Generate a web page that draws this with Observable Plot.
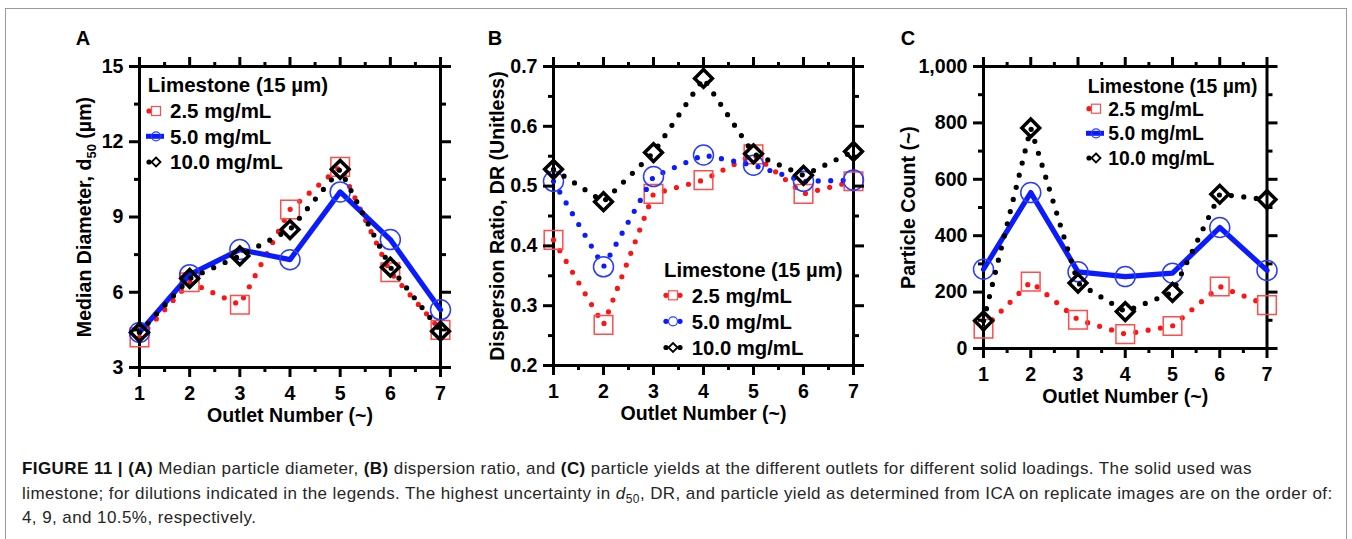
<!DOCTYPE html>
<html><head><meta charset="utf-8">
<script src="https://cdn.jsdelivr.net/npm/d3@7"></script>
<script src="https://cdn.jsdelivr.net/npm/@observablehq/plot@0.6"></script>
<style>
body{margin:0;background:#fff;}
#fig{position:relative;width:1352px;height:539px;overflow:hidden;font-family:"Liberation Sans",Arial,sans-serif;background:#fff;}
#frame{position:absolute;left:5px;top:8px;width:1342px;height:600px;border:1px solid #999;box-sizing:border-box;}
.panel{position:absolute;top:0;}
#overlay{position:absolute;left:0;top:0;}
.cap{position:absolute;left:22px;font-size:17px;letter-spacing:0.42px;color:#262626;white-space:nowrap;line-height:1;}
.cap b{color:#111;}
.cap sub{font-size:12px;line-height:0;}
</style></head>
<body><div id="fig"><div id="frame"></div></div>
<script>
// ---------- data ----------
const outlets = [1, 2, 3, 4, 5, 6, 7];
const seriesLabels = ["2.5 mg/mL", "5.0 mg/mL", "10.0 mg/mL"];
const legendTitle = "Limestone (15 µm)";
const panelLetters = ["A", "B", "C"];
const xTitle = "Outlet Number (~)";
const yTitles = ["Median Diameter, d50 (µm)", "Dispersion Ratio, DR (Unitless)", "Particle Count (~)"];

// Panel A: median diameter d50 (µm)
const d50_25 = [4.2, 6.4, 5.5, 9.3, 11.0, 6.8, 4.5];
const d50_50 = [4.4, 6.7, 7.7, 7.3, 10.0, 8.1, 5.3];
const d50_100 = [4.4, 6.55, 7.45, 8.5, 10.9, 7.0, 4.45];

// Panel B: dispersion ratio
const dr_25 = [0.41, 0.268, 0.487, 0.51, 0.553, 0.487, 0.508];
const dr_50 = [0.508, 0.365, 0.516, 0.552, 0.535, 0.508, 0.51];
const dr_100 = [0.528, 0.474, 0.556, 0.68, 0.554, 0.518, 0.558];

// Panel C: particle count
const pc_25 = [70, 237, 102, 51, 80, 220, 154];
const pc_50 = [281, 553, 272, 255, 267, 429, 277];
const pc_100 = [98, 782, 232, 131, 199, 547, 528];

// ticks
const xMajor = [1, 2, 3, 4, 5, 6, 7];
const xMinor = [1.5, 2.5, 3.5, 4.5, 5.5, 6.5];
const yMajorA = [3, 6, 9, 12, 15];
const yMinorA = [4.5, 7.5, 10.5, 13.5];
const yMajorB = [0.2, 0.3, 0.4, 0.5, 0.6, 0.7];
const yMinorB = [0.25, 0.35, 0.45, 0.55, 0.65];
const yMajorC = [0, 200, 400, 600, 800, 1000];
const yMinorC = [100, 300, 500, 700, 900];

// ---------- styles ----------
const RED = "#ff1414", RED_M = "#ff4d4d", BLUE = "#0a1cff", BLUE_M = "#2a3dff", BLACK = "#000";
const seriesStyle = [
  {line: RED, symbol: "square", r: 10.5, mark: RED_M, msw: 1.5},
  {line: BLUE, symbol: "circle", r: 10, mark: BLUE_M, msw: 1.5},
  {line: BLACK, symbol: "diamond2", r: 8, mark: BLACK, msw: 3.5}
];

const fig = document.getElementById("fig");
const FONT = "'Liberation Sans', Arial, sans-serif";

function makePanel(cfg) {
  const rows = cfg.values.map(vals => outlets.map((x, i) => ({x, y: vals[i]})));
  const marks = [Plot.frame({stroke: "black", strokeWidth: 3})];
  rows.forEach((r, i) => {
    const s = seriesStyle[i];
    const dash = (i === 1 && !cfg.blueDotted) ? null : "0 12.5";
    const lineOpts = {x: "x", y: "y", stroke: s.line, strokeWidth: 5.2, strokeLinecap: "round", strokeLinejoin: "round"};
    if (dash) lineOpts.strokeDasharray = dash;
    marks.push(Plot.line(r, lineOpts));
    marks.push(Plot.dot(r, {x: "x", y: "y", symbol: s.symbol, r: s.r, stroke: s.mark, strokeWidth: s.msw, fill: "none"}));
  });
  const blank = () => "";
  marks.push(
    Plot.axisX(xMajor, {anchor: "bottom", tickSize: 10, tickPadding: 9, strokeWidth: 3, label: null, tickFormat: d => String(d)}),
    Plot.axisX(xMinor, {anchor: "bottom", tickSize: 5, strokeWidth: 3, label: null, tickFormat: blank}),
    Plot.axisX(xMajor, {anchor: "top", tickSize: 10, strokeWidth: 3, label: null, tickFormat: blank}),
    Plot.axisX(xMinor, {anchor: "top", tickSize: 5, strokeWidth: 3, label: null, tickFormat: blank}),
    Plot.axisY(cfg.yMajor, {anchor: "left", tickSize: 10, tickPadding: 6, strokeWidth: 3, label: null, tickFormat: cfg.yFormat}),
    Plot.axisY(cfg.yMinor, {anchor: "left", tickSize: 5, strokeWidth: 3, label: null, tickFormat: blank}),
    Plot.axisY(cfg.yMajor, {anchor: "right", tickSize: 10, strokeWidth: 3, label: null, tickFormat: blank}),
    Plot.axisY(cfg.yMinor, {anchor: "right", tickSize: 5, strokeWidth: 3, label: null, tickFormat: blank}),
    Plot.text([xTitle], {text: d => d, frameAnchor: "bottom", lineAnchor: "middle", textAnchor: "middle", dy: 48}),
    Plot.text([cfg.yTitle], {text: d => d, frameAnchor: "left", lineAnchor: "middle", textAnchor: "middle", rotate: -90, dx: cfg.yTitleDx})
  );
  const svg = Plot.plot({
    width: cfg.width, height: cfg.height,
    marginLeft: cfg.mL, marginRight: cfg.mR, marginTop: cfg.mT, marginBottom: cfg.mB,
    x: {domain: [1, 7], axis: null},
    y: {domain: cfg.yDomain, axis: null},
    style: {fontFamily: FONT, fontSize: "19.6px", fontWeight: "bold", color: "black", background: "none", overflow: "visible"},
    marks
  });
  const wrap = document.createElement("div");
  wrap.className = "panel";
  wrap.style.left = cfg.left + "px";
  wrap.appendChild(svg);
  fig.appendChild(wrap);
  return svg;
}

const svgA = makePanel({
  left: 0, width: 470, height: 440, mL: 139, mR: 30, mT: 66, mB: 73,
  yDomain: [3, 15], yMajor: yMajorA, yMinor: yMinorA, yFormat: d => String(d),
  values: [d50_25, d50_50, d50_100], yTitle: yTitles[0], yTitleDx: -55, blueDotted: false
});
const svgB = makePanel({
  left: 470, width: 410, height: 440, mL: 83, mR: 27, mT: 66, mB: 75,
  yDomain: [0.2, 0.7], yMajor: yMajorB, yMinor: yMinorB, yFormat: d3.format(".1f"),
  values: [dr_25, dr_50, dr_100], yTitle: yTitles[1], yTitleDx: -56, blueDotted: true
});
const svgC = makePanel({
  left: 880, width: 472, height: 440, mL: 103, mR: 85.5, mT: 66, mB: 92,
  yDomain: [0, 1000], yMajor: yMajorC, yMinor: yMinorC, yFormat: d3.format(","),
  values: [pc_25, pc_50, pc_100], yTitle: yTitles[2], yTitleDx: -74.5, blueDotted: false
});

// subscript in panel A y title
(function () {
  const t = Array.from(svgA.querySelectorAll("text")).find(e => e.textContent.startsWith("Median"));
  if (!t) return;
  const ns = "http://www.w3.org/2000/svg";
  t.textContent = "";
  const a = document.createElementNS(ns, "tspan"); a.textContent = "Median Diameter, d";
  const b = document.createElementNS(ns, "tspan"); b.textContent = "50"; b.style.fontSize = "13px"; b.setAttribute("dy", "5");
  const c = document.createElementNS(ns, "tspan"); c.textContent = " (µm)"; c.setAttribute("dy", "-5");
  t.append(a, b, c);
})();

// ---------- overlay: panel letters and legends ----------
const ov = d3.select(fig).append("svg").attr("id", "overlay").attr("width", 1352).attr("height", 539)
  .style("font-family", FONT).style("font-weight", "bold");
const letterPos = [[83, 38], [495, 38], [908, 38]];
panelLetters.forEach((L, i) => {
  ov.append("text").attr("x", letterPos[i][0]).attr("y", letterPos[i][1] + 7).attr("text-anchor", "middle")
    .attr("font-size", 20).text(L);
});

function legend(cfg) {
  const g = ov.append("g");
  const fs = cfg.fs;
  g.append("text").attr("x", cfg.titleX).attr("y", cfg.titleY + 0.358 * fs).attr("font-size", fs).text(legendTitle);
  seriesLabels.forEach((lab, i) => {
    const cy = cfg.rows[i], sx = cfg.symX, mx = sx + 10;
    const s = seriesStyle[i];
    const dotted = !(i === 1 && !cfg.blueDotted);
    if (dotted) {
      const dots = cfg.both ? [sx + 3, sx + 17] : [sx + 3];
      dots.forEach(dx => g.append("circle").attr("cx", dx).attr("cy", cy).attr("r", 2.6).attr("fill", s.line));
    } else {
      g.append("line").attr("x1", sx).attr("x2", sx + 18).attr("y1", cy).attr("y2", cy)
        .attr("stroke", s.line).attr("stroke-width", 5);
    }
    if (s.symbol === "square") {
      g.append("rect").attr("x", mx - 4.5).attr("y", cy - 4.5).attr("width", 9).attr("height", 9)
        .attr("fill", "none").attr("stroke", RED_M).attr("stroke-width", 1.2);
    } else if (s.symbol === "circle") {
      g.append("circle").attr("cx", mx).attr("cy", cy).attr("r", 4.5).attr("fill", "none")
        .attr("stroke", BLUE_M).attr("stroke-width", 1.2);
    } else {
      g.append("path").attr("d", `M${mx},${cy - 4.5}L${mx + 4.5},${cy}L${mx},${cy + 4.5}L${mx - 4.5},${cy}Z`)
        .attr("fill", "#fff").attr("stroke", "#000").attr("stroke-width", 1.8);
    }
    g.append("text").attr("x", cfg.textX).attr("y", cy + 0.358 * fs).attr("font-size", fs).text(lab);
  });
}
legend({titleX: 147.7, titleY: 85, rows: [111, 136.3, 162], symX: 146, textX: 170, both: false, blueDotted: false, fs: 20.5});
legend({titleX: 664, titleY: 270, rows: [295.3, 321.3, 347.5], symX: 663, textX: 691.7, both: true, blueDotted: true, fs: 20.3});
legend({titleX: 1087.7, titleY: 85.8, rows: [108.7, 133.3, 158], symX: 1086, textX: 1108.3, both: false, blueDotted: false, fs: 19.3});

// ---------- caption ----------
const captionLines = [
  "<b>FIGURE 11 | (A)</b> Median particle diameter, <b>(B)</b> dispersion ratio, and <b>(C)</b> particle yields at the different outlets for different solid loadings. The solid used was",
  "limestone; for dilutions indicated in the legends. The highest uncertainty in <i>d</i><sub>50</sub>, DR, and particle yield as determined from ICA on replicate images are on the order of:",
  "4, 9, and 10.5%, respectively."
];
const captionY = [468, 493, 517];
captionLines.forEach((html, i) => {
  const d = document.createElement("div");
  d.className = "cap";
  d.style.top = (captionY[i] - 8.3) + "px";
  d.innerHTML = html;
  fig.appendChild(d);
});
</script></body></html>
